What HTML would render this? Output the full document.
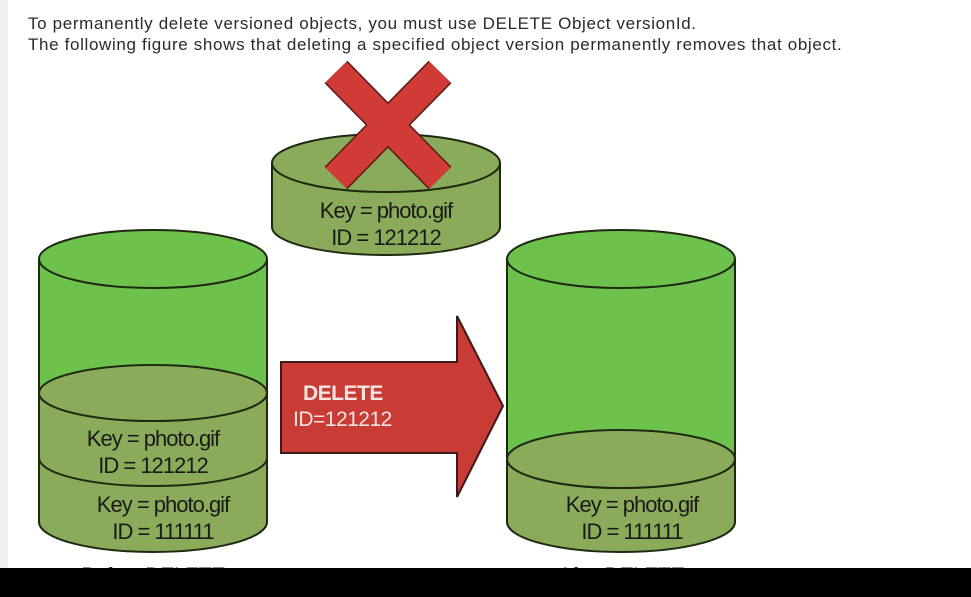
<!DOCTYPE html>
<html><head><meta charset="utf-8"><style>
html,body{margin:0;padding:0;width:971px;height:597px;overflow:hidden;background:#fff}
.side{position:absolute;left:0;top:0;width:8px;height:568px;background:#eeeef3}
.txt{position:absolute;left:28px;top:13px;font-family:"Liberation Sans",sans-serif;font-size:17px;letter-spacing:0.65px;color:#2a2a2a;line-height:21px;white-space:nowrap}
.bar{position:absolute;left:0;top:568px;width:971px;height:29px;background:#000}
svg{position:absolute;left:0;top:0}
</style></head><body>
<div class="side"></div>
<svg width="971" height="568" viewBox="0 0 971 568" font-family="Liberation Sans, sans-serif">
<g stroke="#1e2a10" stroke-width="2">
<path d="M39 259 L39 522 A114 30 0 0 0 267 522 L267 259 Z" fill="#8aab5a"/>
<path d="M39 259 L39 393 A114 28 0 0 0 267 393 L267 259 Z" fill="#6cc24d"/>
<ellipse cx="153" cy="259" rx="114" ry="29" fill="#6cc24d"/>
<ellipse cx="153" cy="393" rx="114" ry="28" fill="#8aab5a"/>
<path d="M39 458 A114 28 0 0 0 267 458" fill="none"/>
<path d="M507 259 L507 522 A114 30 0 0 0 735 522 L735 259 Z" fill="#8aab5a"/>
<path d="M507 259 L507 459 A114 29 0 0 0 735 459 L735 259 Z" fill="#6cc24d"/>
<ellipse cx="621" cy="259" rx="114" ry="29" fill="#6cc24d"/>
<ellipse cx="621" cy="459" rx="114" ry="29" fill="#8aab5a"/>
<path d="M272 163 L272 227 A114 28 0 0 0 500 227 L500 163 Z" fill="#8aab5a"/>
<ellipse cx="386" cy="163" rx="114" ry="29" fill="#8aab5a"/>
<path d="M281 362 L457 362 L457 316 L503 406 L457 497 L457 453 L281 453 Z" fill="#c93c35" stroke="#3a1a1a"/>
</g>
<g stroke-linecap="butt">
<line x1="336" y1="72" x2="440" y2="178" stroke="#5a1a18" stroke-width="32"/>
<line x1="440" y1="72" x2="336" y2="178" stroke="#5a1a18" stroke-width="32"/>
<line x1="336" y1="72" x2="440" y2="178" stroke="#d13b35" stroke-width="29"/>
<line x1="440" y1="72" x2="336" y2="178" stroke="#d13b35" stroke-width="29"/>
</g>
<g fill="#1a1a1a" font-size="22" text-anchor="middle" letter-spacing="-1">
<text x="386" y="218">Key = photo.gif</text>
<text x="386" y="245">ID = 121212</text>
<text x="153" y="446">Key = photo.gif</text>
<text x="153" y="473">ID = 121212</text>
<text x="163" y="512">Key = photo.gif</text>
<text x="163" y="539">ID = 111111</text>
<text x="632" y="512">Key = photo.gif</text>
<text x="632" y="539">ID = 111111</text>
<text x="153" y="583">Before DELETE</text>
<text x="621" y="583">After DELETE</text>
</g>
<g fill="#f6e4e2" font-size="21" font-weight="bold" letter-spacing="-0.5">
<text x="303" y="400">DELETE</text>
<text x="293" y="426" font-weight="normal">ID=121212</text>
</g>
</svg>
<div class="txt">To permanently delete versioned objects, you must use DELETE Object versionId.<br>The following figure shows that deleting a specified object version permanently removes that object.</div>
<div class="bar"></div>
</body></html>
